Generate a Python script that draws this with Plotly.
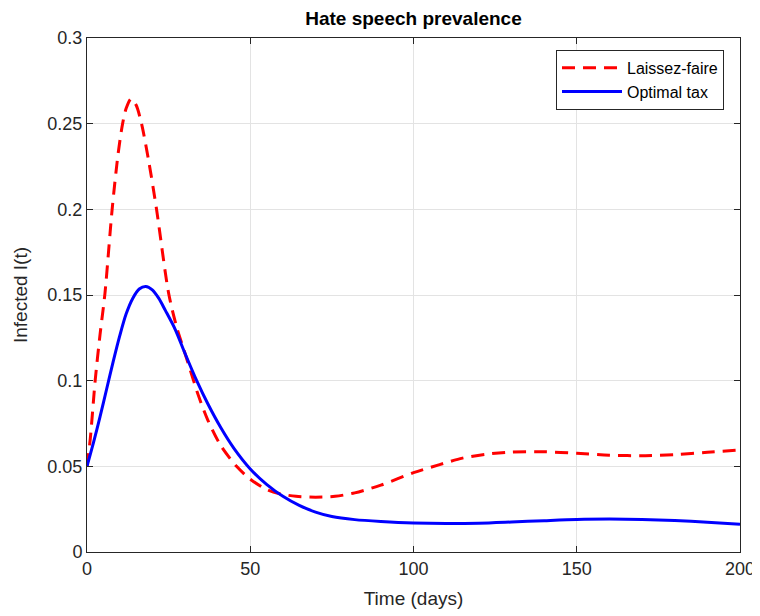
import plotly.graph_objects as go

# Laissez-faire (red dashed)
t_lf = [0, 1, 2.5, 4, 5.5, 7.7, 9.5, 10.9, 12, 13.5, 15, 16.7, 19, 21.3, 25, 27.5, 29.5, 31.5,
        34, 37, 41, 45.8, 50, 55, 59, 64, 70, 76, 82, 90, 100, 108, 115, 122, 130, 140,
        150, 160, 171, 180, 190, 200]
i_lf = [0.05, 0.066, 0.1, 0.127, 0.151, 0.2, 0.232, 0.25, 0.259, 0.2645, 0.261, 0.25, 0.227,
        0.2, 0.151, 0.131, 0.119, 0.107, 0.092, 0.077, 0.062, 0.05, 0.0425, 0.0365, 0.034, 0.0325,
        0.032, 0.0325, 0.0345, 0.039, 0.0463, 0.051, 0.0548, 0.057, 0.0583, 0.0585,
        0.0576, 0.0565, 0.0562, 0.0568, 0.0582, 0.0595]

# Optimal tax (blue solid)
t_ot = [0, 2, 4, 6, 8, 10, 12, 14, 16, 18, 20, 22, 24, 27, 30, 33.6, 37, 41, 45, 50, 55,
        60, 65, 70, 75, 82, 90, 100, 110, 120, 130, 140, 150, 160, 170, 180, 190, 200]
i_ot = [0.05, 0.064, 0.079, 0.095, 0.111, 0.126, 0.139, 0.148, 0.1535, 0.155, 0.153, 0.148,
        0.141, 0.13, 0.116, 0.1, 0.0865, 0.0725, 0.0605, 0.0485, 0.0395, 0.0325, 0.0272,
        0.0233, 0.0207, 0.0189, 0.0178, 0.0169, 0.0166, 0.0168, 0.0175, 0.0183, 0.019,
        0.0192, 0.019, 0.0184, 0.0174, 0.0162]

x_ticks = [0, 50, 100, 150, 200]
y_ticks = [0, 0.05, 0.1, 0.15, 0.2, 0.25, 0.3]
y_tick_labels = ["0", "0.05", "0.1", "0.15", "0.2", "0.25", "0.3"]

FONT = "Liberation Sans, Arial, Helvetica, sans-serif"
AX = "#262626"

fig = go.Figure()
fig.add_trace(go.Scatter(x=t_lf, y=i_lf, mode="lines", name="Laissez-faire",
                         line=dict(color="#ff0000", width=3, dash="13px,8px", shape="spline", smoothing=0.8)))
fig.add_trace(go.Scatter(x=t_ot, y=i_ot, mode="lines", name="Optimal tax",
                         line=dict(color="#0000ff", width=3, shape="spline", smoothing=0.8)))

axis_common = dict(showline=True, linecolor=AX, linewidth=1, mirror="ticks",
                   ticks="inside", ticklen=6, tickcolor=AX, showgrid=True,
                   gridcolor="#e3e3e3", gridwidth=1, zeroline=False, automargin=False,
                   tickfont=dict(family=FONT, size=18, color=AX))

fig.update_xaxes(range=[0, 200], tickvals=x_ticks,
                 title=dict(text="Time (days)", font=dict(family=FONT, size=19, color=AX), standoff=14),
                 **axis_common)
fig.update_yaxes(range=[0, 0.3], tickvals=y_ticks, ticktext=y_tick_labels,
                 title=dict(text="Infected I(t)", font=dict(family=FONT, size=19, color=AX), standoff=14),
                 **axis_common)

fig.update_layout(
    width=752, height=608,
    margin=dict(l=79, r=20, t=30, b=64),
    paper_bgcolor="white", plot_bgcolor="white",
    title=dict(text="<b>Hate speech prevalence</b>", x=0.5, xanchor="center", xref="paper",
               y=1, yref="paper", yanchor="bottom", pad=dict(b=13),
               font=dict(family=FONT, size=19, color="black")),
    legend=dict(x=0.9755, y=0.977, xanchor="right", yanchor="top",
                bgcolor="white", bordercolor=AX, borderwidth=1,
                font=dict(family=FONT, size=16, color="black"),
                tracegroupgap=0, itemwidth=60),
    showlegend=True,
)

fig.write_html("out.html")
